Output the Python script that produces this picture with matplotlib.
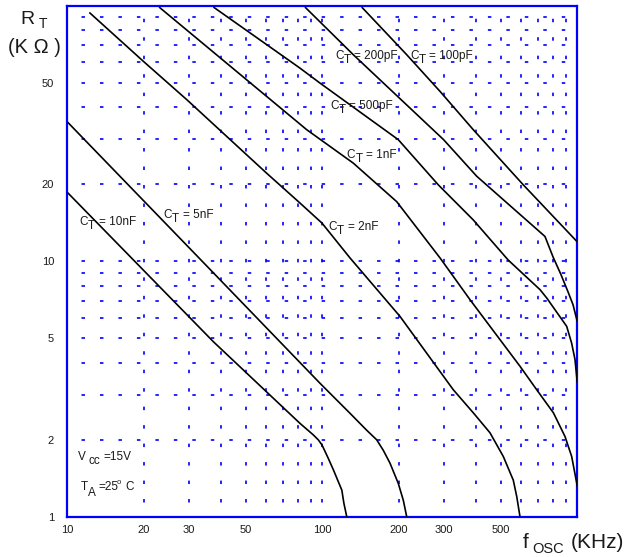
import matplotlib
matplotlib.use('Agg')
import matplotlib.pyplot as plt
from matplotlib.ticker import FixedLocator, FixedFormatter, NullFormatter

plt.rcParams['font.family'] = ['Liberation Sans', 'DejaVu Sans']
plt.rcParams['lines.scale_dashes'] = False

# ---------------- data (f in KHz, R in KOhm) ----------------
f_10nF = [10, 37.4, 81.7, 92.2, 96.4, 99.7, 105.6, 110.7, 119.3, 121.5, 124.7]
R_10nF = [18.6, 4.84, 2.32, 2.09, 2.0, 1.91, 1.69, 1.52, 1.27, 1.13, 1.0]

f_5nF = [10, 36.4, 97.9, 128.4, 149.3, 163.4, 173.4, 184.3, 198.6, 207.8, 214.3]
R_5nF = [35.1, 9.26, 3.33, 2.54, 2.18, 2.00, 1.82, 1.62, 1.35, 1.16, 1.0]

f_2nF = [12.2, 19.9, 29.4, 60.5, 81.7, 99.7, 128.4, 201.7, 289.5, 326.3, 391,
         454.6, 512.7, 561, 578.7, 596]
R_2nF = [94.1, 60.5, 42.9, 22.1, 16.9, 14.1, 10.3, 6.08, 3.70, 3.14, 2.55,
         2.13, 1.72, 1.39, 1.2, 1.0]

f_1nF = [22.9, 86.9, 132.3, 195.8, 289.5, 379.5, 454.6, 596, 693, 806, 894.9,
         950.6, 994.5, 1000]
R_1nF = [98.8, 32.7, 24.2, 17.1, 10.3, 7.07, 5.56, 3.88, 3.14, 2.55, 2.06,
         1.72, 1.355, 1.31]

f_500pF = [37.4, 81.7, 97.9, 198.6, 285, 391, 536, 714, 758.6, 908.6, 950.6,
           979.5, 1000]
R_500pF = [98.8, 57.0, 49.8, 29.9, 19.9, 14.5, 10.1, 7.74, 7.18, 5.56, 4.77,
           4.12, 3.34]

f_200pF = [85.5, 132.3, 299, 403.3, 746.8, 803, 863, 919, 962, 1000]
R_200pF = [98.8, 64.3, 29.9, 21.5, 12.5, 10.4, 8.86, 7.60, 6.76, 5.8]

f_100pF = [142.7, 214.3, 289.5, 391, 614, 1000]
R_100pF = [98.8, 64.3, 46.2, 32.7, 19.9, 11.9]

curve_names = ['10nF', '5nF', '2nF', '1nF', '500pF', '200pF', '100pF']
curve_f = [f_10nF, f_5nF, f_2nF, f_1nF, f_500pF, f_200pF, f_100pF]
curve_R = [R_10nF, R_5nF, R_2nF, R_1nF, R_500pF, R_200pF, R_100pF]

# label anchor points (f, R) for each C_T label
label_f = [11.14, 23.8, 105.6, 124.7, 107.2, 112.2, 220.8]
label_R = [13.8, 14.7, 13.3, 25.3, 39.4, 61.9, 61.9]

x_ticks = [10, 20, 30, 50, 100, 200, 300, 500]
x_ticklabels = ['10', '20', '30', '50', '100', '200', '300', '500']
x_minor = [40, 60, 70, 80, 90, 400, 600, 700, 800, 900]
y_ticks = [1, 2, 5, 10, 20, 50]
y_ticklabels = ['1', '2', '5', '10', '20', '50']
y_minor = [3, 4, 6, 7, 8, 9, 30, 40, 60, 70, 80, 90]

# ---------------- figure ----------------
W, H = 631, 557
fig = plt.figure(figsize=(W / 100, H / 100), dpi=100)
L, R_, T, B = 67.3, 577.3, 5.7, 516.7
ax = fig.add_axes([L / W, 1 - B / H, (R_ - L) / W, (B - T) / H])
ax.set_xscale('log')
ax.set_yscale('log')
ax.set_xlim(10, 1000)
ax.set_ylim(1, 100)

BLUE = '#0000FF'
TXT = '#1a1a1a'

ax.xaxis.set_major_locator(FixedLocator(x_ticks))
ax.xaxis.set_major_formatter(FixedFormatter(x_ticklabels))
ax.xaxis.set_minor_locator(FixedLocator(x_minor))
ax.xaxis.set_minor_formatter(NullFormatter())
ax.yaxis.set_major_locator(FixedLocator(y_ticks))
ax.yaxis.set_major_formatter(FixedFormatter(y_ticklabels))
ax.yaxis.set_minor_locator(FixedLocator(y_minor))
ax.yaxis.set_minor_formatter(NullFormatter())
ax.tick_params(which='both', length=0, labelcolor=TXT)
ax.tick_params(axis='x', pad=6, labelsize=8)
ax.tick_params(axis='y', pad=9.5, labelsize=8)

ax.set_axisbelow(True)
ax.grid(True, which='both', color=BLUE, lw=1.2, linestyle=(2.86, (2.5, 10.8)))

for sp in ax.spines.values():
    sp.set_color(BLUE)
    sp.set_linewidth(1.6)

for f, r in zip(curve_f, curve_R):
    ax.plot(f, r, color='black', lw=1.2, solid_joinstyle='round',
            solid_capstyle='butt', zorder=3)

FS = 8.5
for name, lf, lr in zip(curve_names, label_f, label_R):
    ax.annotate('C', (lf, lr), xytext=(0, 0), textcoords='offset points',
                fontsize=FS, color=TXT, ha='left', va='baseline', zorder=4)
    ax.annotate('T', (lf, lr), xytext=(6.2, -2.9), textcoords='offset points',
                fontsize=FS, color=TXT, ha='left', va='baseline', zorder=4)
    ax.annotate('= ' + name, (lf, lr), xytext=(14.0, 0), textcoords='offset points',
                fontsize=FS, color=TXT, ha='left', va='baseline', zorder=4)


def fx(p):
    return p / W


def fy(p):
    return 1 - p / H


# axis titles
fig.text(fx(20), fy(24), 'R', fontsize=14, color=TXT, va='baseline')
fig.text(fx(39), fy(28.5), 'T', fontsize=10, color=TXT, va='baseline')
fig.text(fx(8), fy(53), '(K Ω )', fontsize=14.5, color=TXT, va='baseline')

fig.text(fx(523), fy(548), 'f', fontsize=15, color=TXT, va='baseline')
fig.text(fx(532), fy(553), 'OSC', fontsize=10.5, color=TXT, va='baseline')
fig.text(fx(571), fy(548), '(KHz)', fontsize=15, color=TXT, va='baseline')

# conditions
fig.text(fx(77.5), fy(460), 'V', fontsize=FS, color=TXT, va='baseline')
fig.text(fx(89), fy(464.5), 'cc', fontsize=FS, color=TXT, va='baseline')
fig.text(fx(103), fy(460), '=15V', fontsize=FS, color=TXT, va='baseline')
fig.text(fx(80.5), fy(490), 'T', fontsize=FS, color=TXT, va='baseline')
fig.text(fx(87.5), fy(495.5), 'A', fontsize=FS, color=TXT, va='baseline')
fig.text(fx(98), fy(490), '=25', fontsize=FS, color=TXT, va='baseline')
fig.text(fx(117), fy(484), 'o', fontsize=5.5, color=TXT, va='baseline')
fig.text(fx(125), fy(490), 'C', fontsize=FS, color=TXT, va='baseline')

fig.savefig('out.png', dpi=100)
